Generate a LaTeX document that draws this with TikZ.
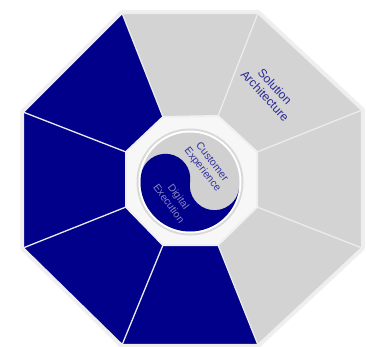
\documentclass[tikz,border=0pt]{standalone}
\usepackage{fontspec}
\setmainfont{Liberation Sans}
\definecolor{segblue}{RGB}{0,0,139}
\definecolor{seggray}{RGB}{211,211,211}
\definecolor{divcol}{RGB}{236,236,236}
\definecolor{bordcol}{RGB}{238,238,238}
\definecolor{ringcol}{RGB}{240,240,240}
\definecolor{yygray}{RGB}{208,208,208}
\definecolor{solcol}{RGB}{40,40,150}
\definecolor{custcol}{RGB}{50,50,160}
\definecolor{digcol}{RGB}{135,135,195}
\begin{document}
\begin{tikzpicture}[x=1pt,y=1pt,yscale=-1,
  bluefill/.style={fill=segblue},
  grayfill/.style={fill=seggray},
  divider/.style={draw=divcol,line width=1.3pt},
  lbl/.style={align=center,inner sep=0pt}]
\useasboundingbox (0,0) rectangle (366,347);
% outer vertices
\coordinate (O1) at (122,13);  \coordinate (O2) at (258,13);
\coordinate (O3) at (362,110); \coordinate (O4) at (362,248);
\coordinate (O5) at (258,345); \coordinate (O6) at (122,345);
\coordinate (O7) at (23,248);  \coordinate (O8) at (23,112);
% inner vertices
\coordinate (I1) at (163,117); \coordinate (I2) at (218,116);
\coordinate (I3) at (257,152); \coordinate (I4) at (257,207);
\coordinate (I5) at (218,245); \coordinate (I6) at (163,245);
\coordinate (I7) at (126,207); \coordinate (I8) at (126,152);
% shadow
\draw[line width=6pt,gray!12,line join=round] (O1)--(O2)--(O3)--(O4)--(O5)--(O6)--(O7)--(O8)--cycle;
% segments
\fill[grayfill] (O1)--(O2)--(I2)--(I1)--cycle;
\fill[grayfill] (O2)--(O3)--(I3)--(I2)--cycle;
\fill[grayfill] (O3)--(O4)--(I4)--(I3)--cycle;
\fill[grayfill] (O4)--(O5)--(I5)--(I4)--cycle;
\fill[bluefill] (O5)--(O6)--(I6)--(I5)--cycle;
\fill[bluefill] (O6)--(O7)--(I7)--(I6)--cycle;
\fill[bluefill] (O7)--(O8)--(I8)--(I7)--cycle;
\fill[bluefill] (O8)--(O1)--(I1)--(I8)--cycle;
% dividers
\foreach \k in {1,...,8} { \draw[divider] (O\k) -- (I\k); }
% outer border
\draw[line width=2.2pt,draw=bordcol,line join=miter] (O1)--(O2)--(O3)--(O4)--(O5)--(O6)--(O7)--(O8)--cycle;
% inner octagon
\filldraw[fill=gray!6,draw=ringcol,line width=2pt] (I1)--(I2)--(I3)--(I4)--(I5)--(I6)--(I7)--(I8)--cycle;
% circle
\coordinate (C) at (190,182);
\fill[gray!30] (C) circle[radius=53.5];
\fill[white] (C) circle[radius=51.5];
\fill[yygray] (C) circle[radius=49.5];
\path (C) ++(8:49.5) coordinate (P2);
\fill[bluefill] (P2) arc[start angle=8,end angle=188,radius=49.5]
  arc[start angle=188,end angle=368,radius=24.75]
  arc[start angle=188,end angle=8,radius=24.75] -- cycle;
% labels
\node[lbl,rotate=-47,font=\fontsize{12}{13.5}\selectfont,text=solcol] (sol) at (270,91) {Solution\\Architecture};
\node[lbl,rotate=-52,font=\fontsize{10.5}{12}\selectfont,text=custcol] (cust) at (207,166) {Customer\\Experience};
\node[lbl,rotate=-54,font=\fontsize{10.3}{12}\selectfont,text=digcol] (dig) at (174,200) {Digital\\Execution};
\end{tikzpicture}
\end{document}
